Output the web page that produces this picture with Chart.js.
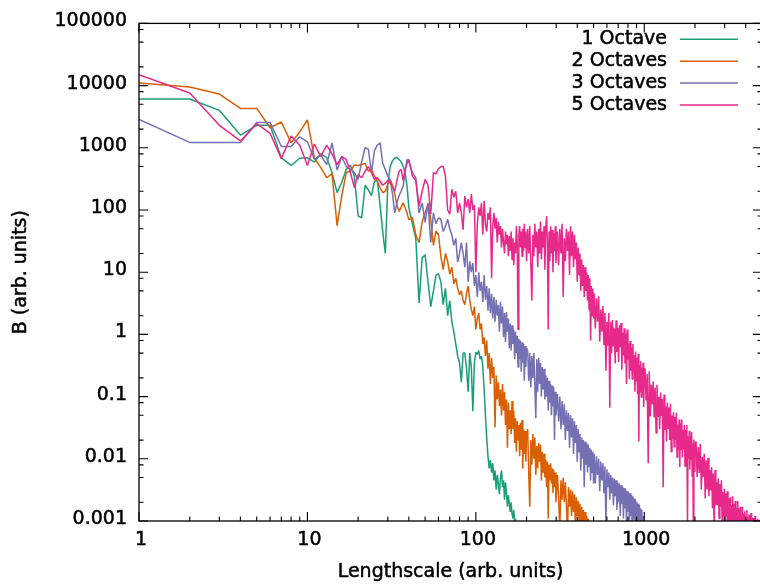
<!DOCTYPE html>
<html><head><meta charset="utf-8">
<script src="https://cdn.jsdelivr.net/npm/chart.js@4/dist/chart.umd.min.js"></script>
<style>html,body{margin:0;padding:0;background:#fff;overflow:hidden;}canvas{display:block;}</style>
</head><body>
<canvas id="c" width="762" height="586" style="width:762px;height:586px"></canvas>
<script>
// ---------- data ----------
const lengthscale = [
  1,2,3,4,5,6,7,8,9,10,11,12,13,14,15,16,17,18,19,20,21,22,23,24,25,26,27,28,29,30,31,32,33,34,35,36,37,38,39,40,
  42,44,46,48,50,52,54,56,58,60,62,64,66,68,70,72,74,76,78,80,82,84,86,88,90,92,94,96,98,100,
  102,104,106,108,110,112,114,116,118,120,122,124,126,128,130,132,134,136,138,140,142,144,146,148,150,152,154,156,158,160,162,164,166,168,170,172,174,176,178,180,182,184,186,188,190,192,194,196,198,200,
  203,206,209,212,215,218,221,224,227,230,233,236,239,242,245,248,251,254,257,260,263,266,269,272,275,278,281,284,287,290,293,296,299,
  305,310,315,320,325,330,335,340,345,350,355,360,365,370,375,380,385,390,395,400,405,410,415,420,425,430,435,440,445,450,455,460,465,470,475,480,485,490,495,500,
  504,512,520,528,536,544,552,560,568,576,584,592,600,608,616,624,632,640,648,656,664,672,680,688,696,704,712,720,728,736,744,752,760,768,776,784,792,800,808,816,824,832,840,848,856,864,872,880,888,896,904,912,920,928,936,944,952,960,968,976,984,992,1000,
  1010,1025,1040,1055,1070,1085,1100,1115,1130,1145,1160,1175,1190,1205,1220,1235,1250,1265,1280,1295,1310,1325,1340,1355,1370,1385,1400,1415,1430,1445,1460,1475,1490,1505,1520,1535,1550,1565,1580,1595,1610,1625,1640,1655,1670,1685,1700,1715,1730,1745,1760,1775,1790,1805,1820,1835,1850,1865,1880,1895,1910,1925,1940,1955,1970,1985,2000,
  2030,2060,2090,2120,2150,2180,2210,2240,2270,2300,2330,2360,2390,2420,2450,2480,2510,2540,2570,2600,2630,2660,2690,2720,2750,2780,2810,2840,2870,2900,2930,2960,2990,3020,3050,3080,3110,3140,3170,3200,3230,3260,3290,3320,3350,3380,3410,3440,3470,3500,3530,3560,3590,3620,3650,3680,3710,3740,3770,3800,3830,3860,3890,3920,3950,3980,4010,4040,4070,4100,4130,4160,4190,4220,4250,4280,4310,4340,4370,4400,4430,4460,4490,4520,4550,4580,4610,4640,4670,4700,4730,4760,4790,4820,4850,4880,4910,4940,4970,5000
];

const octave1 = [
  6100,6100,4000,1600,2300,2300,690,520,680,690,
  590,800,700,400,190,280,450,530,350,80,
  75,250,210,170,290,300,120,45,20,250,
  500,620,680,700,650,600,500,400,250,110,
  60,35,3.2,17,19,7,2.8,5,9,9.5,
  7,3,5.5,2,3.5,1.6,1.1,0.7,0.45,0.35,
  0.17,0.5,0.5,0.28,0.12,0.5,0.3,0.058,0.35,0.52,
  0.48,0.55,0.4,0.45,0.3,0.13,0.05,0.022,0.011,0.007,
  0.0095,0.006,0.0085,0.0045,0.0065,0.0032,0.0055,0.004,0.0027,0.005,
  0.0065,0.0035,0.0045,0.0022,0.0042,0.0028,0.0017,0.0026,0.0019,0.0014,
  0.002,0.0013,0.0011,0.0015,0.0009,0.0011,0.0006
];

const octave2 = [
  11000,9500,7300,4300,4300,2100,2600,1200,1800,2800,
  680,480,330,380,56,170,400,420,530,520,
  540,560,420,450,350,290,230,190,200,260,
  310,250,180,120,95,110,130,110,90,70,
  75,40,30,65,90,125,70,27,46,40,
  18,11,20,15,9.3,12,6.5,8,5.5,4.3,
  5,3.5,3,4.5,6,3.6,2.5,2,2.8,1.2,
  1.8,2.2,1.2,1.5,0.7,0.9,0.45,0.8,0.28,0.5,
  0.16,0.42,0.2,0.3,0.032,0.22,0.09,0.17,0.07,0.13,
  0.05,0.16,0.06,0.12,0.035,0.09,0.015,0.08,0.03,0.06,
  0.025,0.085,0.03,0.06,0.018,0.045,0.013,0.04,0.02,0.035,
  0.011,0.038,0.014,0.042,0.007,0.03,0.012,0.028,0.009,0.024,
  0.03,0.006,0.0017,0.02,0.008,0.025,0.01,0.022,0.0055,0.016,
  0.007,0.018,0.009,0.017,0.0045,0.013,0.006,0.012,0.005,0.0097,
  0.0035,0.009,0.0011,0.008,0.0045,0.0085,0.004,0.007,0.0028,0.0065,
  0.0035,0.006,0.002,
  0.0055,0.0025,0.0007,0.0045,0.0022,0.005,0.002,0.0042,0.0018,0.0006,
  0.0035,0.0017,0.0032,0.0012,0.003,0.0014,0.0027,0.0008,0.0024,0.0012,
  0.0021,0.001,0.0019,0.0007,0.0017,0.0009,0.0015,0.0006,0.0014,0.0008,
  0.0012,0.0005,0.0011,0.0004
];

const octave3 = [
  2870,1220,1220,1220,2560,2560,1050,1050,1500,1250,
  650,770,535,1200,440,720,500,450,400,310,
  600,1000,950,400,900,1100,1200,560,450,350,
  310,180,90,130,170,200,240,400,650,600,
  400,330,90,130,63,130,30,90,60,75,
  71,45,55,71,50,40,27,35,14.5,20,
  30,20,12,30,7,15,10,14,6,9,
  4,10,5,7,3.3,9,3.6,6,2.4,5.5,
  2.2,4.5,1.8,4,1.6,3.6,2,3,1.1,3.3,
  1.5,2.8,0.9,2.2,0.75,2.3,1.1,1.8,0.6,1.5,
  0.55,1.4,0.7,1.2,0.4,1.1,0.5,0.95,0.3,0.85,
  0.4,0.8,0.25,0.75,0.35,0.7,0.18,0.65,0.3,0.6,
  0.55,0.18,0.5,0.14,0.45,0.2,0.5,0.15,0.045,0.4,
  0.12,0.42,0.16,0.35,0.1,0.3,0.13,0.28,0.09,0.22,
  0.1,0.2,0.06,0.18,0.08,0.16,0.05,0.15,0.07,0.14,
  0.02,0.12,0.05,
  0.11,0.04,0.1,0.03,0.085,0.035,0.075,0.02,0.06,0.028,
  0.055,0.015,0.05,0.022,0.045,0.012,0.04,0.018,0.035,0.009,
  0.03,0.013,0.025,0.0065,0.022,0.01,0.02,0.0035,0.019,0.008,
  0.018,0.006,0.017,0.0075,0.015,0.0045,0.014,0.006,0.013,0.004,
  0.012,0.004,0.011,0.0055,0.01,0.003,0.009,0.0045,0.0085,0.0028,
  0.0075,0.0009,0.0068,0.0035,0.006,0.0022,0.0055,0.0028,0.005,0.0018,
  0.0048,0.0025,0.0045,0.0015,0.0042,0.002,0.004,0.0012,0.0038,0.0019,
  0.0036,0.0011,0.0034,0.0016,0.0032,0.0009,0.003,0.0014,0.0029,0.0008,
  0.0028,0.0012,0.0026,0.0007,0.0025,0.0011,0.0023,0.0006,0.0022,0.001,
  0.002,0.0006,0.0019,0.0008,0.0018,0.0005,0.0016,0.0007,0.0015,0.0005,
  0.0012,0.0004,0.0009
];

const octave5 = [
  15000,7600,2300,1290,2440,1710,670,1550,1100,520,
  1150,720,1100,800,535,720,650,400,230,370,
  330,420,500,400,310,330,290,250,270,300,
  270,240,200,300,420,450,300,450,560,650,
  350,300,115,200,310,250,86,400,380,460,
  500,500,350,100,86,215,160,200,90,130,
  90,48,168,110,150,90,180,100,120,10,
  60,110,80,130,40,140,60,45,90,70,
  110,8,55,90,50,75,30,65,40,55,
  25,50,30,20,45,28,40,18,38,22,
  45,16,35,13,30,20,55,30,1.2,40,
  55,25,45,18,50,22,60,25,45,15,
  50,20,55,14,3.5,40,18,60,25,45,
  12,50,20,65,16,45,25,55,11,50,
  80,30,1.2,45,15,55,20,48,10,42,
  22,55,14,
  45,13,50,20,60,4,35,15,50,22,
  45,9,55,18,45,12,40,16,30,7,
  25,9,20,5,16,6,13,4,12,5,
  10,3.5,9,2.5,8,0.8,6,2,5.4,1.8,
  4.6,1.25,3.8,1.6,4.1,0.76,2.5,1.1,2.85,0.67,
  2.2,0.26,1.6,0.66,2.2,0.066,1.6,0.5,1.7,0.64,
  1.25,0.34,1.68,0.52,1.27,0.36,1.4,0.62,1.52,0.27,
  1.06,0.46,1.25,0.34,1.03,0.16,1.2,0.39,0.71,0.19,
  0.78,0.26,0.62,0.19,0.7,0.24,0.46,0.12,0.53,0.18,
  0.42,0.11,0.49,0.019,0.32,0.12,0.37,0.098,0.29,0.13,
  0.35,0.068,0.23,
  0.285,0.087,0.23,0.0085,0.255,0.048,0.156,0.075,0.174,0.046,
  0.139,0.026,0.155,0.047,0.099,0.03,0.116,0.049,0.092,0.0035,
  0.108,0.029,0.069,0.019,0.08,0.031,0.067,0.02,0.077,0.013,
  0.049,0.021,0.056,0.0155,0.047,0.02,0.055,0.0106,0.036,0.0138,
  0.043,0.0074,0.037,0.0142,0.043,0.0105,0.029,0.0142,0.035,0.0076,
  0.029,0.0101,0.035,0.00085,0.023,0.0101,0.028,0.0067,0.023,0.0099,
  0.027,0.0052,0.0177,0.00076,0.0205,0.0063,0.0175,
  0.019,0.0051,0.0155,0.0059,0.0175,0.0032,0.0108,0.0051,0.0121,0.0023,
  0.0095,0.0032,0.0104,0.0025,0.0066,0.0031,0.0074,0.0016,0.0058,0.00069,
  0.0066,0.0018,0.0042,0.0018,0.0048,0.0011,0.0039,0.0017,0.0045,0.00086,
  0.0029,0.0012,0.0033,0.0009,0.0028,0.0012,0.003,0.00066,0.0023,0.00089,
  0.0024,0.00065,0.0018,0.00089,0.0025,0.00048,0.0019,0.00073,0.0021,0.00055,
  0.0016,0.00078,0.0021,0.00047,0.0016,0.00063,0.0017,0.00048,0.0013,0.00064,
  0.0017,0.00034,0.00133,0.00052,0.00143,0.0004,0.0011,0.00054,0.0015,0.00034,
  0.00117,0.00046,0.00127,0.00035,0.00099,0.00049,0.00135,0.00027,0.00103,0.00041,
  0.00113,0.00031,0.00098,0.00043,0.0012,0.00026,0.00092,0.00036,0.001,0.00028,
  0.00109,0.00034,0.00095,0.00027,0.00105,0.00033,0.00092,0.00026,0.00101,0.00032
];

const seriesLabels = ['1 Octave', '2 Octaves', '3 Octaves', '5 Octaves'];
const seriesColors = ['#1b9e77', '#d95f02', '#7570b3', '#e7298a'];
const xTickLabels = [1, 10, 100, 1000];
const yTickLabels = [0.001, 0.01, 0.1, 1, 10, 100, 1000, 10000, 100000];
const xMinorMultipliers = [2, 3, 4, 5, 6, 7, 8, 9];
const yMinorMultipliers = [2, 5, 8];
const xTitle = 'Lengthscale (arb. units)';
const yTitle = 'B (arb. units)';

// ---------- chart ----------
const FONT = "'DejaVu Sans', sans-serif";
const TEXT_STROKE = 0.5;
Chart.defaults.font.family = FONT;
Chart.defaults.font.size = 19;
Chart.defaults.color = '#000';

function toPoints(values) {
  return values.map((v, i) => ({ x: lengthscale[i], y: v }));
}

const seriesValues = [octave1, octave2, octave3, octave5];
const datasets = seriesValues.map((vals, i) => ({
  label: seriesLabels[i],
  data: toPoints(vals),
  borderColor: seriesColors[i],
  backgroundColor: seriesColors[i],
  borderWidth: 1.5,
  pointRadius: 0,
  tension: 0,
  fill: false,
  borderJoinStyle: 'bevel',
  clip: 0,
  order: seriesValues.length - 1 - i
}));

function strokedText(ctx, text, x, y) {
  ctx.fillText(text, x, y);
  ctx.strokeText(text, x, y);
}

const frameTicks = {
  id: 'frameTicks',
  afterDatasetsDraw(chart) {
    const { ctx, chartArea: { left, right, top, bottom }, scales: { x, y } } = chart;
    ctx.save();
    ctx.strokeStyle = '#000';
    ctx.lineWidth = 1.3;
    ctx.strokeRect(left, top, right - left, bottom - top);
    ctx.lineWidth = 1.1;
    ctx.beginPath();
    const xmax = x.max;
    xTickLabels.forEach(d => {
      const list = [[d, 9]];
      xMinorMultipliers.forEach(m => { if (m * d <= xmax) list.push([m * d, 4.5]); });
      list.forEach(([v, len]) => {
        const p = x.getPixelForValue(v);
        ctx.moveTo(p, bottom); ctx.lineTo(p, bottom - len);
        ctx.moveTo(p, top); ctx.lineTo(p, top + len);
      });
    });
    yTickLabels.forEach(d => {
      const list = [[d, 9]];
      if (d < y.max) yMinorMultipliers.forEach(m => list.push([m * d, 4.5]));
      list.forEach(([v, len]) => {
        const p = y.getPixelForValue(v);
        ctx.moveTo(left, p); ctx.lineTo(left + len, p);
        ctx.moveTo(right, p); ctx.lineTo(right - len, p);
      });
    });
    ctx.stroke();
    ctx.restore();
  }
};

const textLayer = {
  id: 'textLayer',
  afterDraw(chart) {
    const { ctx, chartArea } = chart;
    ctx.save();
    ctx.font = '19px ' + FONT;
    ctx.fillStyle = '#000';
    ctx.strokeStyle = '#000';
    ctx.lineWidth = TEXT_STROKE;
    ctx.lineJoin = 'round';
    // axis titles
    ctx.textAlign = 'center';
    ctx.textBaseline = 'alphabetic';
    strokedText(ctx, xTitle, (chartArea.left + chartArea.right) / 2, 577);
    ctx.save();
    ctx.translate(26, (chartArea.top + chartArea.bottom) / 2);
    ctx.rotate(-Math.PI / 2);
    strokedText(ctx, yTitle, 0, 0);
    ctx.restore();
    // legend (text right-aligned, sample line on its right)
    ctx.textAlign = 'right';
    chart.data.datasets.forEach((ds, i) => {
      const ly = 39.3 + i * 21.9;
      ctx.fillStyle = '#000';
      ctx.strokeStyle = '#000';
      ctx.lineWidth = TEXT_STROKE;
      strokedText(ctx, ds.label, 667, ly + 5);
      ctx.strokeStyle = ds.borderColor;
      ctx.lineWidth = 1.5;
      ctx.beginPath();
      ctx.moveTo(680, ly); ctx.lineTo(738, ly);
      ctx.stroke();
    });
    ctx.restore();
  }
};

new Chart(document.getElementById('c'), {
  type: 'line',
  data: { datasets },
  options: {
    responsive: false,
    animation: false,
    events: [],
    layout: { padding: { top: 19, left: 0, right: 0, bottom: 0 } },
    plugins: { legend: { display: false }, tooltip: { enabled: false } },
    scales: {
      x: {
        type: 'logarithmic',
        min: 1, max: 5000,
        grid: { display: false, drawTicks: false },
        border: { display: false },
        afterBuildTicks: (axis) => { axis.ticks = xTickLabels.map(v => ({ value: v })); },
        afterFit: (axis) => { axis.height = 65; },
        ticks: {
          autoSkip: false, maxRotation: 0, padding: 8, labelOffset: 2,
          textStrokeColor: '#000', textStrokeWidth: TEXT_STROKE,
          callback: (v) => String(v)
        },
        title: { display: false, text: xTitle }
      },
      y: {
        type: 'logarithmic',
        min: 0.001, max: 100000,
        grid: { display: false, drawTicks: false },
        border: { display: false },
        afterBuildTicks: (axis) => { axis.ticks = yTickLabels.map(v => ({ value: v })); },
        afterFit: (axis) => { axis.width = 139; },
        ticks: {
          autoSkip: false, padding: 12, labelOffset: -2,
          textStrokeColor: '#000', textStrokeWidth: TEXT_STROKE,
          callback: (v) => String(v)
        },
        title: { display: false, text: yTitle }
      }
    }
  },
  plugins: [frameTicks, textLayer]
});
</script>
</body></html>
